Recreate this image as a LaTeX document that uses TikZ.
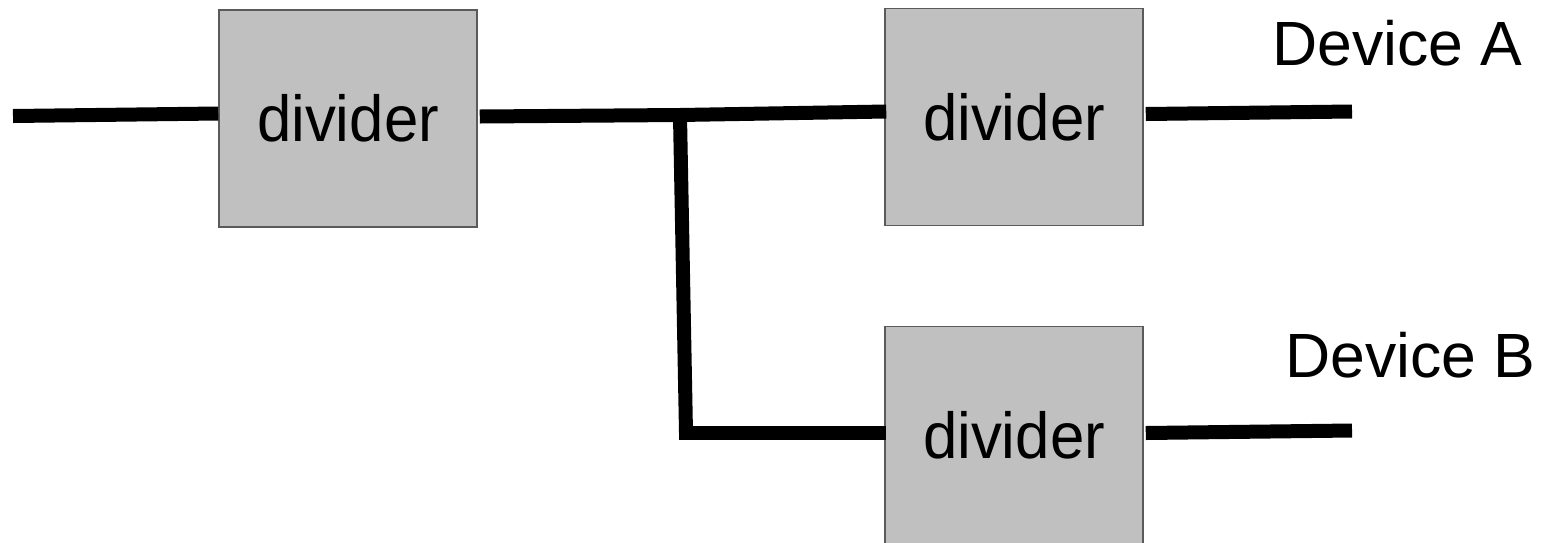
\documentclass[tikz,border=0pt]{standalone}
\usepackage{fontspec}
\setmainfont{Liberation Sans}
\newfontfamily\divfont[FakeStretch=0.95]{Liberation Sans}
\definecolor{boxfill}{HTML}{C0C0C0}
\definecolor{boxline}{HTML}{5A5A5A}
\tikzset{
  divbox/.style={draw=boxline, line width=1.5pt, fill=boxfill, inner sep=0pt,
    minimum width=258pt, minimum height=217pt,
    font=\divfont\fontsize{65}{70}\selectfont},
  wire/.style={line width=14pt, black},
  devlabel/.style={anchor=base west, inner sep=0pt, font=\fontsize{62.5}{70}\selectfont}
}
\begin{document}
\begin{tikzpicture}[x=1pt, y=-1pt]
  \useasboundingbox (0,0) rectangle (1555,542);

  % divider blocks
  \node[divbox] (d1) at (348,118.5) {divider};
  \node[divbox] (d2) at (1014,117) {divider};
  \node[divbox] (d3) at (1014,435) {divider};

  % free ends and branch point
  \coordinate (in)  at (13,116);
  \coordinate (tee) at (680,115);
  \coordinate (tap) at (680,116);
  \coordinate (bend) at (686,433);
  \coordinate (corner) at (679,433);
  \coordinate (outA) at (1352,111.5);
  \coordinate (outB) at (1352,430.5);

  % wiring
  \draw[wire] (in) -- ([yshift=5pt]d1.west);
  \draw[wire] ([xshift=2pt,yshift=2pt]d1.east) -- (tee) -- ([xshift=2pt,yshift=5.5pt]d2.west);
  \draw[wire] (tap) -- (bend);
  \draw[wire] (corner) -- ([xshift=2pt,yshift=2pt]d3.west);
  \draw[wire] ([xshift=2pt,yshift=3pt]d2.east) -- (outA);
  \draw[wire] ([xshift=2pt,yshift=2pt]d3.east) -- (outB);

  % device labels
  \node[devlabel] (devA) at (1272,65) {Device A};
  \node[devlabel] (devB) at (1285,377) {Device B};
\end{tikzpicture}
\end{document}
